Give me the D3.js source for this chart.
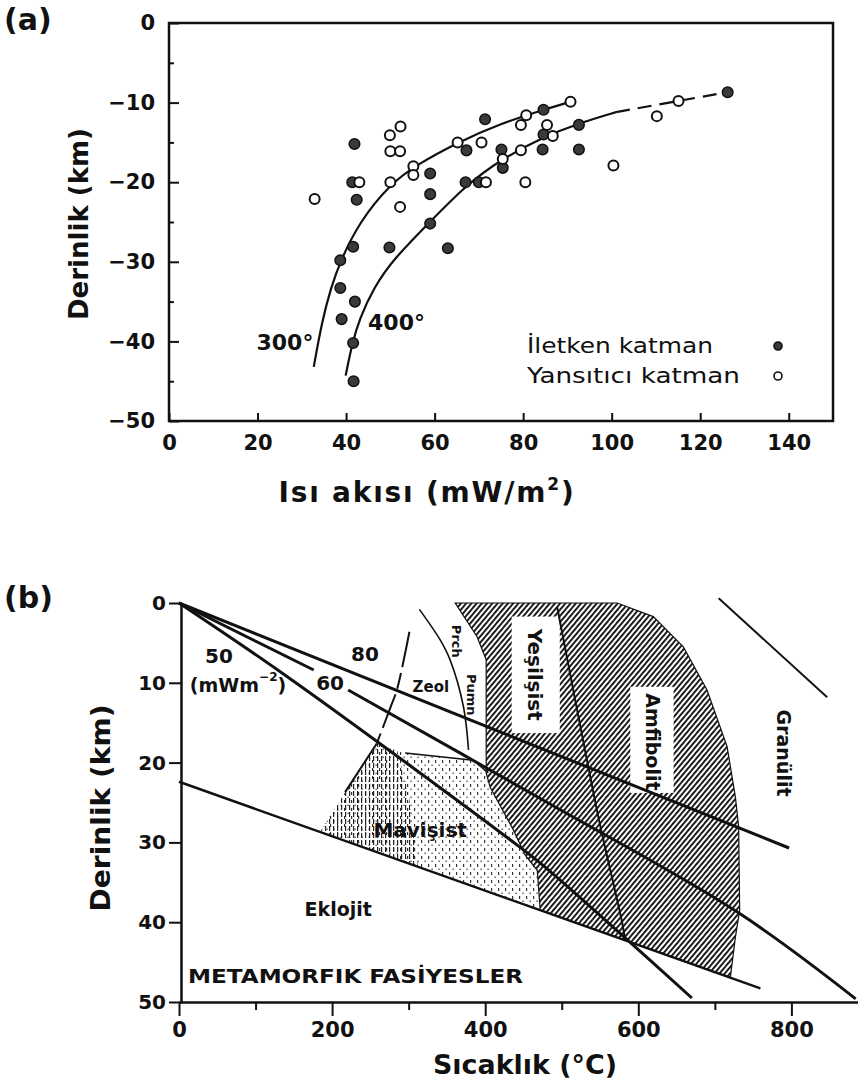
<!DOCTYPE html>
<html>
<head>
<meta charset="utf-8">
<script src="https://cdn.jsdelivr.net/npm/d3@7"></script>
<style>
  body { margin: 0; background: #fff; }
  svg text { font-family: "DejaVu Sans", "Liberation Sans", sans-serif; fill: #111; }
</style>
</head>
<body>
<svg id="chart" width="858" height="1088"></svg>
<script>
// ---------- panel (a): heat flow vs depth ----------
const heatTicks = [0, 20, 40, 60, 80, 100, 120, 140];
const depthTicksA = [0, -10, -20, -30, -40, -50];
const depthMinorA = [-5, -15, -25, -35, -45];

// İletken katman (filled)  [heat flow, depth]
const iletken = [
  [41.9, -15.2], [42.4, -22.2], [41.4, -20], [59, -18.9], [59, -21.5], [59, -25.2],
  [71.4, -12.1], [67.2, -16], [67, -20], [70, -20], [41.6, -28.1], [49.8, -28.2],
  [63, -28.3], [38.7, -29.8], [38.7, -33.3], [42, -35], [39, -37.2], [41.6, -40.2],
  [41.7, -45], [84.6, -10.9], [84.6, -14], [92.6, -12.8], [75.1, -15.9], [75.4, -18.2],
  [84.4, -15.9], [92.6, -15.9], [126.2, -8.7]
];
// Yansıtıcı katman (open)
const yansitici = [
  [32.9, -22.1], [52.3, -13], [49.9, -14.1], [50, -16.1], [52.2, -16.1], [43, -20],
  [50, -20], [52.2, -23.1], [55.2, -18], [55.2, -19.1], [65.2, -15], [70.6, -15],
  [71.6, -20], [90.7, -9.9], [79.5, -12.8], [80.7, -11.6], [85.4, -12.8], [86.7, -14.2],
  [75.4, -17.1], [79.5, -16], [80.5, -20], [100.4, -17.9], [110.2, -11.7], [115.1, -9.8]
];
const curve300 = [[32.7, -43.2], [34.6, -37.4], [36.6, -33.2], [38.8, -29.8], [43, -25],
  [50, -20.2], [56, -17.8], [65.2, -15], [75, -12.6], [84.6, -10.9], [90.7, -9.9]];
const curve400 = [[39.9, -44.3], [41.4, -40.2], [43, -37.2], [46.3, -33.2], [50.8, -29.6],
  [58.6, -25.2], [67, -20.4], [75.4, -17], [84.6, -14.3], [92.6, -12.6], [101, -11.2]];
const curve400dash = [[101, -11.2], [115, -9.8], [126, -8.7]];

// ---------- panel (b): metamorphic facies ----------
const tempTicks = [0, 200, 400, 600, 800];
const tempMinor = [100, 300, 500, 700];
const depthTicksB = [0, 10, 20, 30, 40, 50];

// geotherms [T °C, depth km]
const geo50 = [[0, 0], [141, 9.2], [433, 29.7], [472, 32.6], [581, 41.8], [670, 49.5]];
const geo60a = [[0, 0], [176, 8.4]];
const geo60b = [[221, 10.9], [472, 24.5], [729, 38.7], [884, 49.6]];
const geo80 = [[0, 0], [797, 30.7]];
const eklojitLine = [[0, 22.4], [759.5, 48.3]];
const zeolDashed = [[301, 3.6], [284.6, 10.9], [275.8, 13.2], [258.4, 17.6]];
const prchArc = [[314, 0.8], [341, 4.6], [354, 7.1], [371.6, 13], [378.2, 18.4]];
const yesilAmfLine = [[494, 0.5], [535, 20.7], [550, 27.8], [579, 40.1], [583, 42.3]];
const mavTopLine = [[295.4, 18.8], [384.3, 19.7], [404, 21.3]];
const mavLeftLine = [[258.4, 17.6], [217, 23.7]];
const granulitLine = [[705, -0.6], [846.7, 11.8]];
const hatchZone = [
  [360.8, 0], [572.5, 0], [619.6, 1.7], [658.8, 5.5], [689.8, 10.9], [716, 18],
  [726.8, 24.3], [731.1, 28], [732.4, 38.5], [726.8, 41.9], [720.3, 46.9],
  [471.9, 38.5], [468, 33.5], [452.3, 31.6], [436.6, 28.4], [406.5, 23.1],
  [401.3, 21.3], [401.3, 7.1], [389.2, 4.2]
];
const mavisistZone = [
  [258.4, 17.6], [295.4, 18.8], [384.3, 19.7], [404, 21.3], [406.5, 23.1], [436.6, 28.4],
  [452.3, 31.6], [468, 33.5], [471.9, 38.5], [184.3, 28.7], [217, 23.7]
];
const mavisistDense = [[258.4, 17.6], [285, 18.5], [300, 24], [312, 33], [184.3, 28.7], [217, 23.7]];

const svg = d3.select("#chart");
const defs = svg.append("defs");

const hatch = defs.append("pattern").attr("id", "hatch")
  .attr("width", 4).attr("height", 4)
  .attr("patternUnits", "userSpaceOnUse")
  .attr("patternTransform", "rotate(40)");
hatch.append("rect").attr("width", 4).attr("height", 4).attr("fill", "#fff");
hatch.append("rect").attr("x", 0).attr("y", 0).attr("width", 1.9).attr("height", 4).attr("fill", "#111");

const stip = defs.append("pattern").attr("id", "stip")
  .attr("width", 7).attr("height", 8).attr("patternUnits", "userSpaceOnUse");
stip.append("rect").attr("x", 1).attr("y", 0).attr("width", 1.2).attr("height", 3).attr("fill", "#333");
stip.append("rect").attr("x", 4.5).attr("y", 4.5).attr("width", 1.2).attr("height", 1.5).attr("fill", "#444");

const dense = defs.append("pattern").attr("id", "dense")
  .attr("width", 4).attr("height", 7).attr("patternUnits", "userSpaceOnUse");
dense.append("rect").attr("x", 1).attr("y", 0).attr("width", 1.2).attr("height", 5).attr("fill", "#222");

function styleAxis(g, size) {
  g.attr("font-family", "DejaVu Sans, sans-serif")
    .attr("font-size", size)
    .attr("font-weight", "bold");
  g.selectAll("line").attr("stroke", "#111").attr("stroke-width", 2);
  g.selectAll("text").attr("fill", "#111");
}

// ================= panel (a) =================
const xA = d3.scaleLinear().domain([0, 150]).range([169, 833]);
const yA = d3.scaleLinear().domain([-50, 0]).range([421, 23]);
const gA = svg.append("g");

gA.append("g")
  .attr("transform", `translate(0,${yA(-50)})`)
  .call(d3.axisBottom(xA).tickValues(heatTicks).tickSize(-8).tickPadding(14))
  .call(g => g.select(".domain").remove())
  .call(g => styleAxis(g, 21));

gA.append("g")
  .attr("transform", `translate(${xA(0)},0)`)
  .call(d3.axisLeft(yA).tickValues(depthTicksA).tickSize(-10).tickPadding(14))
  .call(g => g.select(".domain").remove())
  .call(g => styleAxis(g, 21));

gA.append("g")
  .attr("transform", `translate(${xA(0)},0)`)
  .call(d3.axisLeft(yA).tickValues(depthMinorA).tickSize(-5).tickFormat(""))
  .call(g => g.select(".domain").remove())
  .call(g => styleAxis(g, 21));

gA.append("rect")
  .attr("x", xA(0)).attr("y", yA(0))
  .attr("width", xA(150) - xA(0)).attr("height", yA(-50) - yA(0))
  .attr("fill", "none").attr("stroke", "#111").attr("stroke-width", 2.5);

const lineA = d3.line().x(d => xA(d[0])).y(d => yA(d[1])).curve(d3.curveBasis);
const dashA = d3.line().x(d => xA(d[0])).y(d => yA(d[1])).curve(d3.curveCatmullRom.alpha(0.5));
gA.append("path").attr("d", lineA(curve300)).attr("fill", "none").attr("stroke", "#111").attr("stroke-width", 2.2);
gA.append("path").attr("d", lineA(curve400)).attr("fill", "none").attr("stroke", "#111").attr("stroke-width", 2.2);
gA.append("path").attr("d", dashA(curve400dash)).attr("fill", "none").attr("stroke", "#111")
  .attr("stroke-width", 2.2).attr("stroke-dasharray", "14,8");

gA.selectAll(".ilt").data(iletken).join("circle")
  .attr("cx", d => xA(d[0])).attr("cy", d => yA(d[1])).attr("r", 5.3)
  .attr("fill", "#3a3a3a").attr("stroke", "#111").attr("stroke-width", 1.5);
gA.selectAll(".yns").data(yansitici).join("circle")
  .attr("cx", d => xA(d[0])).attr("cy", d => yA(d[1])).attr("r", 5)
  .attr("fill", "#fff").attr("stroke", "#111").attr("stroke-width", 2);

gA.append("text").attr("x", xA(26.2)).attr("y", yA(-41.1)).attr("text-anchor", "middle")
  .attr("font-size", 22).attr("font-weight", "bold").text("300°");
gA.append("text").attr("x", xA(51.4)).attr("y", yA(-38.6)).attr("text-anchor", "middle")
  .attr("font-size", 22).attr("font-weight", "bold").text("400°");

// legend
const legendItems = [
  { label: "İletken katman", filled: true },
  { label: "Yansıtıcı katman", filled: false }
];
legendItems.forEach((d, i) => {
  gA.append("text").attr("x", 527).attr("y", 353 + i * 30)
    .attr("font-size", 22).attr("textLength", i === 0 ? 186 : 213).attr("lengthAdjust", "spacingAndGlyphs")
    .text(d.label);
  gA.append("circle").attr("cx", 778).attr("cy", 346 + i * 30).attr("r", 4)
    .attr("fill", d.filled ? "#3a3a3a" : "#fff").attr("stroke", "#111").attr("stroke-width", 1.6);
});

svg.append("text").attr("x", 4).attr("y", 30).attr("font-size", 30).attr("font-weight", "bold").text("(a)");
svg.append("text").attr("transform", "translate(88,224) rotate(-90)").attr("text-anchor", "middle")
  .attr("font-size", 26).attr("font-weight", "bold")
  .attr("textLength", 192).attr("lengthAdjust", "spacingAndGlyphs").text("Derinlik (km)");
const xTitleA = svg.append("text").attr("x", 427).attr("y", 502).attr("text-anchor", "middle")
  .attr("font-size", 28).attr("font-weight", "bold").attr("letter-spacing", 1.8);
xTitleA.append("tspan").text("Isı akısı (mW/m");
xTitleA.append("tspan").attr("dy", -12).attr("font-size", 17).text("2");
xTitleA.append("tspan").attr("dy", 12).text(")");

// ================= panel (b) =================
const xB = d3.scaleLinear().domain([0, 887]).range([179, 858]);
const yB = d3.scaleLinear().domain([0, 50]).range([603, 1002]);
const gB = svg.append("g");
const lineB = d3.line().x(d => xB(d[0])).y(d => yB(d[1]));
const curveB = d3.line().x(d => xB(d[0])).y(d => yB(d[1])).curve(d3.curveCatmullRom.alpha(0.5));
const polyB = d3.line().x(d => xB(d[0])).y(d => yB(d[1])).curve(d3.curveLinearClosed);

gB.append("path").attr("d", polyB(mavisistZone)).attr("fill", "url(#stip)").attr("stroke", "none");
gB.append("path").attr("d", polyB(mavisistDense)).attr("fill", "url(#dense)").attr("stroke", "none");
gB.append("path").attr("d", polyB(hatchZone)).attr("fill", "url(#hatch)").attr("stroke", "#111").attr("stroke-width", 1.2);

// white label boxes inside the hatch
const hatchLabels = [
  { text: "Yeşilşist", t: 465.4, z: 9.0, box: [434.6, 1.7, 497.4, 16.3] },
  { text: "Amfibolit", t: 619.6, z: 17.4, box: [589.5, 10.5, 646.1, 23.8] }
];
hatchLabels.forEach(d => {
  gB.append("rect").attr("x", xB(d.box[0])).attr("y", yB(d.box[1]))
    .attr("width", xB(d.box[2]) - xB(d.box[0])).attr("height", yB(d.box[3]) - yB(d.box[1]))
    .attr("fill", "#fff");
});

gB.append("path").attr("d", curveB(yesilAmfLine)).attr("fill", "none").attr("stroke", "#111").attr("stroke-width", 2);
gB.append("path").attr("d", lineB(mavTopLine)).attr("fill", "none").attr("stroke", "#111").attr("stroke-width", 1.5);
gB.append("path").attr("d", lineB(mavLeftLine)).attr("fill", "none").attr("stroke", "#111").attr("stroke-width", 2);
gB.append("path").attr("d", curveB(prchArc)).attr("fill", "none").attr("stroke", "#111").attr("stroke-width", 1.6);
gB.append("path").attr("d", curveB(zeolDashed)).attr("fill", "none").attr("stroke", "#111")
  .attr("stroke-width", 2).attr("stroke-dasharray", "36,6,16,6");
gB.append("path").attr("d", lineB(granulitLine)).attr("fill", "none").attr("stroke", "#111").attr("stroke-width", 2);
gB.append("path").attr("d", lineB(eklojitLine)).attr("fill", "none").attr("stroke", "#111").attr("stroke-width", 2.4);

[geo50, geo60a, geo60b, geo80].forEach(g => {
  gB.append("path").attr("d", curveB(g)).attr("fill", "none").attr("stroke", "#111").attr("stroke-width", 3);
});

// axes
gB.append("g")
  .attr("transform", `translate(0,${yB(50)})`)
  .call(d3.axisBottom(xB).tickValues(tempTicks).tickSize(14).tickSizeOuter(0).tickPadding(6))
  .call(g => g.select(".domain").attr("stroke", "#111").attr("stroke-width", 2.5))
  .call(g => styleAxis(g, 21));
gB.append("g")
  .attr("transform", `translate(0,${yB(50)})`)
  .call(d3.axisBottom(xB).tickValues(tempMinor).tickSize(8).tickFormat(""))
  .call(g => g.select(".domain").remove())
  .call(g => styleAxis(g, 21));
gB.append("g")
  .attr("transform", `translate(${xB(0) + 2},0)`)
  .call(d3.axisLeft(yB).tickValues(depthTicksB).tickSize(12).tickSizeOuter(0).tickPadding(3))
  .call(g => g.select(".domain").attr("stroke", "#111").attr("stroke-width", 2.5))
  .call(g => styleAxis(g, 20));

// facies labels
const faciesLabels = [
  { text: "Zeol", t: 329, z: 10.5, size: 15, rot: 0 },
  { text: "Prch", t: 363, z: 4.8, size: 13, rot: 90 },
  { text: "Pumn", t: 382.6, z: 11.5, size: 13, rot: 90 },
  { text: "Yeşilşist", t: 465.4, z: 9.0, size: 20, rot: 90 },
  { text: "Amfibolit", t: 619.6, z: 17.4, size: 19, rot: 90 },
  { text: "Granülit", t: 790, z: 18.8, size: 19, rot: 90 },
  { text: "Mavişist", t: 315, z: 28.5, size: 20, rot: 0 },
  { text: "Eklojit", t: 208, z: 38.3, size: 19, rot: 0 }
];
faciesLabels.forEach(d => {
  gB.append("text")
    .attr("transform", `translate(${xB(d.t)},${yB(d.z)}) rotate(${d.rot})`)
    .attr("text-anchor", "middle").attr("dominant-baseline", "central")
    .attr("font-size", d.size).attr("font-weight", "bold")
    .text(d.text);
});

const geoLabels = [
  { text: "50", t: 52.3, z: 6.7 },
  { text: "80", t: 243, z: 6.4 },
  { text: "60", t: 197.4, z: 10.0 }
];
geoLabels.forEach(d => {
  gB.append("text").attr("x", xB(d.t)).attr("y", yB(d.z))
    .attr("text-anchor", "middle").attr("dominant-baseline", "central")
    .attr("font-size", 20).attr("font-weight", "bold").text(d.text);
});
const unitLabel = gB.append("text").attr("x", xB(77.1)).attr("y", yB(10.3))
  .attr("text-anchor", "middle").attr("dominant-baseline", "central")
  .attr("font-size", 19).attr("font-weight", "bold");
unitLabel.append("tspan").text("(mWm");
unitLabel.append("tspan").attr("dy", -8).attr("font-size", 12).text("−2");
unitLabel.append("tspan").attr("dy", 8).text(")");

gB.append("text").attr("x", xB(11.8)).attr("y", yB(47.6))
  .attr("font-size", 20).attr("font-weight", "bold")
  .attr("textLength", 335).attr("lengthAdjust", "spacingAndGlyphs")
  .text("METAMORFIK FASİYESLER");

svg.append("text").attr("x", 4).attr("y", 608).attr("font-size", 30).attr("font-weight", "bold").text("(b)");
svg.append("text").attr("transform", "translate(110,808) rotate(-90)").attr("text-anchor", "middle")
  .attr("font-size", 27).attr("font-weight", "bold")
  .attr("textLength", 207).attr("lengthAdjust", "spacingAndGlyphs").text("Derinlik (km)");
svg.append("text").attr("x", 525).attr("y", 1074).attr("text-anchor", "middle")
  .attr("font-size", 26).attr("font-weight", "bold")
  .attr("textLength", 184).attr("lengthAdjust", "spacingAndGlyphs").text("Sıcaklık (°C)");
</script>
</body>
</html>
